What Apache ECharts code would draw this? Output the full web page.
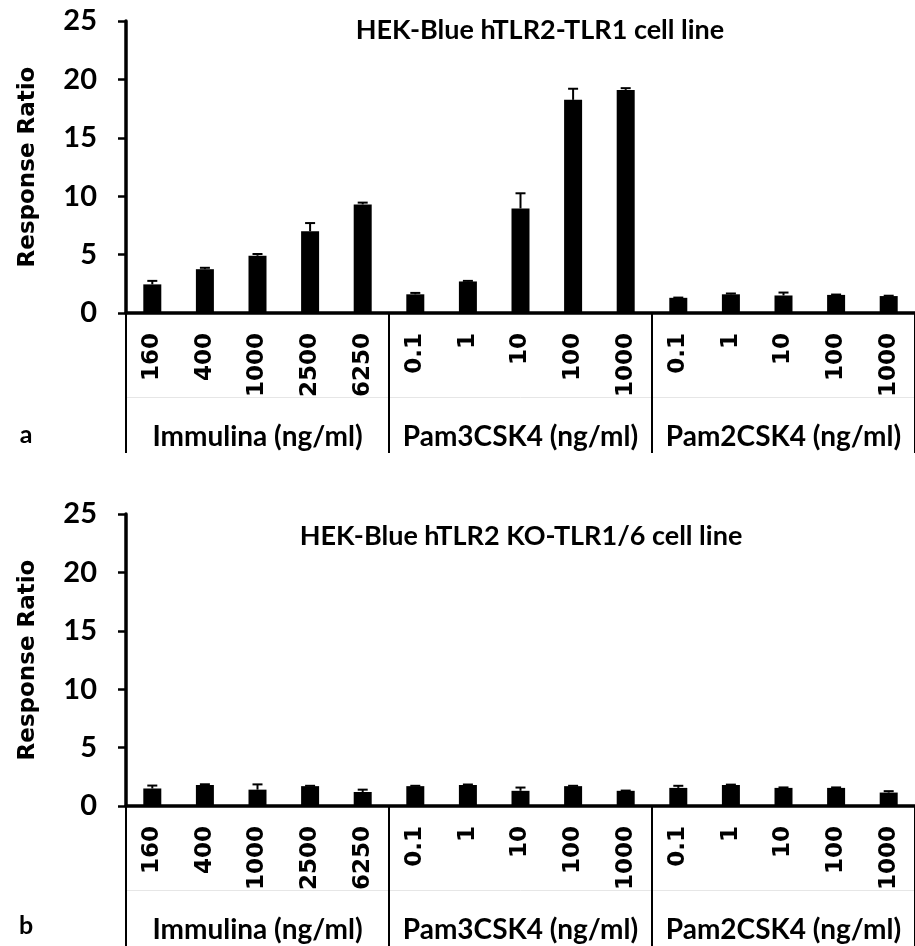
<!DOCTYPE html>
<html lang="en">
  <head>
    <meta charset="UTF-8" />
    <title>HEK-Blue response ratio</title>
    <script src="https://cdn.jsdelivr.net/npm/echarts@6.0.0/dist/echarts.min.js"></script>
    <style>
      html, body { margin: 0; padding: 0; background: #fff; }
    </style>
  </head>
  <body>
    <div id="main" style="width: 915px; height: 946px"></div>
    <script type="text/javascript">
      // concentrations on the x axis, three groups of five
      const categories = ["160", "400", "1000", "2500", "6250", "0.1", "1", "10", "100", "1000", "0.1", "1", "10", "100", "1000"];
      const groups = ["Immulina (ng/ml)", "Pam3CSK4 (ng/ml)", "Pam2CSK4 (ng/ml)"];
      const titles = ["HEK-Blue hTLR2-TLR1 cell line", "HEK-Blue hTLR2 KO-TLR1/6 cell line"];

      // panel a
      const topValues = [2.45, 3.75, 4.9, 7.0, 9.3, 1.6, 2.7, 8.95, 18.25, 19.1, 1.3, 1.6, 1.5, 1.55, 1.45];
      const topErrors = [0.3, 0.12, 0.15, 0.7, 0.15, 0.12, 0.05, 1.3, 0.95, 0.15, 0.02, 0.07, 0.25, 0.03, 0.03];
      // panel b
      const bottomValues = [1.5, 1.8, 1.4, 1.7, 1.2, 1.7, 1.8, 1.3, 1.7, 1.3, 1.55, 1.8, 1.55, 1.55, 1.15];
      const bottomErrors = [0.25, 0.06, 0.45, 0.03, 0.2, 0.03, 0.04, 0.28, 0.03, 0.02, 0.18, 0.03, 0.04, 0.04, 0.12];

      const yMax = 25;
      const yStep = 5;

      const bodyFont = "Lato";
      const wideFont = "DejaVu Sans";

      const grids = [
        { left: 126, top: 21, width: 792, height: 292 },
        { left: 126, top: 514, width: 792, height: 292 },
      ];

      function makeXAxes(gi) {
        return [
          {
            type: "category",
            gridIndex: gi,
            data: categories,
            axisLine: { lineStyle: { color: "#000", width: 3.5 } },
            axisTick: {
              show: true,
              interval: (i) => i % 5 === 0,
              length: 140,
              lineStyle: { color: "#000", width: 2 },
            },
            axisLabel: {
              interval: 0,
              rotate: 90,
              margin: 20,
              color: "#000",
              fontFamily: wideFont,
              fontWeight: "bold",
              fontSize: 23,
            },
          },
          {
            type: "category",
            gridIndex: gi,
            position: "bottom",
            offset: 84,
            data: groups,
            axisLine: { lineStyle: { color: "#e6e6e6", width: 1 } },
            axisTick: { show: false },
            axisLabel: {
              interval: 0,
              margin: 26,
              color: "#000",
              fontFamily: bodyFont,
              fontWeight: "bold",
              fontSize: 28,
            },
          },
        ];
      }

      function makeYAxis(gi) {
        return {
          type: "value",
          gridIndex: gi,
          min: 0,
          max: yMax,
          interval: yStep,
          name: "Response Ratio",
          nameLocation: "middle",
          nameGap: 86,
          nameTextStyle: { color: "#000", fontFamily: wideFont, fontWeight: "bold", fontSize: 23 },
          splitLine: { show: false },
          axisLine: { show: true, lineStyle: { color: "#000", width: 3.5 } },
          axisTick: { show: true, length: 8, lineStyle: { color: "#000", width: 2.5 } },
          axisLabel: { margin: 29, color: "#000", fontFamily: bodyFont, fontWeight: "bold", fontSize: 29 },
        };
      }

      function errorSeries(values, errors, axisIdx) {
        return {
          type: "custom",
          xAxisIndex: axisIdx,
          yAxisIndex: axisIdx / 2,
          z: 3,
          data: values.map((v, i) => [i, v, errors[i]]),
          renderItem: (params, api) => {
            const x = api.value(0);
            const v = api.value(1);
            const e = api.value(2);
            const base = api.coord([x, v]);
            const top = api.coord([x, v + e]);
            const style = { stroke: "#000", lineWidth: 2 };
            return {
              type: "group",
              children: [
                { type: "line", shape: { x1: base[0], y1: base[1], x2: top[0], y2: top[1] }, style },
                { type: "line", shape: { x1: top[0] - 5, y1: top[1], x2: top[0] + 5, y2: top[1] }, style },
              ],
            };
          },
        };
      }

      function barSeries(values, axisIdx) {
        return {
          type: "bar",
          xAxisIndex: axisIdx,
          yAxisIndex: axisIdx / 2,
          data: values,
          barWidth: 18,
          itemStyle: { color: "#000" },
        };
      }

      const panelLetter = (txt, y) => ({
        type: "text",
        x: 26,
        y: y,
        style: { text: txt, fill: "#000", font: "bold 25px " + bodyFont, textAlign: "center", textVerticalAlign: "middle" },
      });
      const panelTitle = (txt, x, y) => ({
        type: "text",
        x: x,
        y: y,
        style: { text: txt, fill: "#000", font: "bold 27px " + bodyFont, textAlign: "center", textVerticalAlign: "middle" },
      });

      let options = {
        animation: false,
        grid: grids,
        xAxis: [...makeXAxes(0), ...makeXAxes(1)],
        yAxis: [makeYAxis(0), makeYAxis(1)],
        series: [
          barSeries(topValues, 0),
          errorSeries(topValues, topErrors, 0),
          barSeries(bottomValues, 2),
          errorSeries(bottomValues, bottomErrors, 2),
        ],
        graphic: [
          panelTitle(titles[0], 540, 30),
          panelTitle(titles[1], 521, 536),
          panelLetter("a", 435),
          panelLetter("b", 926),
        ],
      };

      let myChart = echarts.init(document.getElementById("main"));
      myChart.setOption(options);
    </script>
  </body>
</html>
